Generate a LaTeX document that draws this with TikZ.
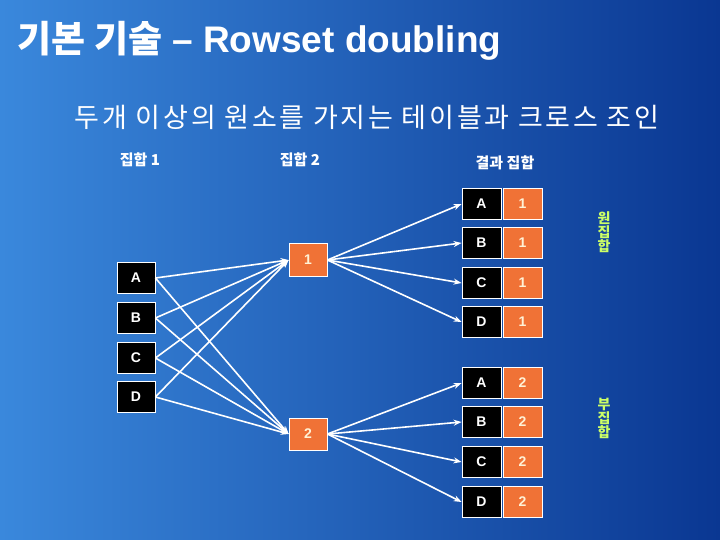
\documentclass[tikz,border=0pt]{standalone}
\usepackage{fontspec}
\setmainfont{Liberation Sans}
\newfontfamily\kr{Noto Sans CJK KR}
\newfontfamily\krwide[LetterSpace=10]{Noto Sans CJK KR}
\usetikzlibrary{positioning, arrows.meta}
\usepackage{xcolor}
\definecolor{SlideBlueL}{HTML}{3A88DC}
\definecolor{SlideBlueR}{HTML}{0A3792}
\definecolor{CellOrange}{HTML}{F07236}
\definecolor{SetGreen}{HTML}{CCFF66}
\definecolor{NumCream}{HTML}{FFF2D6}

\tikzset{
  keycell/.style={draw=white, line width=0.8pt, fill=black, text=white, minimum width=38pt, minimum height=31pt, inner sep=0pt, font=\bfseries\fontsize{14}{14}\selectfont},
  numcell/.style={keycell, fill=CellOrange, text=NumCream},
  link/.style={-{Stealth[length=8pt,width=6pt]}, white, line width=1.6pt},
  setlabel/.style={text=white, font=\kr\bfseries\fontsize{15}{15}\selectfont},
  sidelabel/.style={text=SetGreen, align=center, font=\kr\bfseries\fontsize{14}{14}\selectfont}
}

\begin{document}
\begin{tikzpicture}[x=1pt, y=-1pt]
                % Background
                \shade[left color=SlideBlueL, right color=SlideBlueR] (0,0) rectangle (720,540);
                \useasboundingbox (0,0) rectangle (720,540);

                % Titles
                \node[anchor=west, text=white, font=\bfseries\fontsize{37}{37}\selectfont] (title) at (14,41) {{\kr 기본 기술} – Rowset doubling};
                \node[text=white, font=\krwide\fontsize{27}{27}\selectfont] (sub) at (367,117) {두개 이상의 원소를 가지는 테이블과 크로스 조인};
                \node[setlabel] (set1) at (140,160) {집합 1};
                \node[setlabel] (set2) at (300,160) {집합 2};
                \node[setlabel] (res) at (505,163) {결과 집합};

                % Set 1
                \node[keycell] (la) at (136,278) {A};
                \node[keycell] (lb) at (136,318) {B};
                \node[keycell] (lc) at (136,358) {C};
                \node[keycell] (ld) at (136,397) {D};

                % Set 2
                \node[numcell, minimum height=33pt] (n1) at (308,260) {1};
                \node[numcell, minimum height=32pt] (n2) at (308,434) {2};

                % Result
                \node[keycell, minimum width=39pt] (ra1) at (481.5,204) {A};
                \node[numcell, minimum width=39pt] (va1) at (522.5,204) {1};
                \node[keycell, minimum width=39pt] (rb1) at (481.5,243) {B};
                \node[numcell, minimum width=39pt] (vb1) at (522.5,243) {1};
                \node[keycell, minimum width=39pt] (rc1) at (481.5,283) {C};
                \node[numcell, minimum width=39pt] (vc1) at (522.5,283) {1};
                \node[keycell, minimum width=39pt] (rd1) at (481.5,322) {D};
                \node[numcell, minimum width=39pt] (vd1) at (522.5,322) {1};
                \node[keycell, minimum width=39pt] (ra2) at (481.5,383) {A};
                \node[numcell, minimum width=39pt] (va2) at (522.5,383) {2};
                \node[keycell, minimum width=39pt] (rb2) at (481.5,422) {B};
                \node[numcell, minimum width=39pt] (vb2) at (522.5,422) {2};
                \node[keycell, minimum width=39pt] (rc2) at (481.5,462) {C};
                \node[numcell, minimum width=39pt] (vc2) at (522.5,462) {2};
                \node[keycell, minimum width=39pt] (rd2) at (481.5,502) {D};
                \node[numcell, minimum width=39pt] (vd2) at (522.5,502) {2};

                % Side labels
                \node[sidelabel] (orig) at (604,232) {원\\집\\합};
                \node[sidelabel] (copy) at (604,418) {부\\집\\합};

                % Edges
                \draw[link] (la.east) -- (n1.west);
                \draw[link] (lb.east) -- (n1.west);
                \draw[link] (lc.east) -- (n1.west);
                \draw[link] (ld.east) -- (n1.west);
                \draw[link] (la.east) -- (n2.west);
                \draw[link] (lb.east) -- (n2.west);
                \draw[link] (lc.east) -- (n2.west);
                \draw[link] (ld.east) -- (n2.west);
                \draw[link] (n1.east) -- (ra1.west);
                \draw[link] (n1.east) -- (rb1.west);
                \draw[link] (n1.east) -- (rc1.west);
                \draw[link] (n1.east) -- (rd1.west);
                \draw[link] (n2.east) -- (ra2.west);
                \draw[link] (n2.east) -- (rb2.west);
                \draw[link] (n2.east) -- (rc2.west);
                \draw[link] (n2.east) -- (rd2.west);
\end{tikzpicture}
\end{document}
